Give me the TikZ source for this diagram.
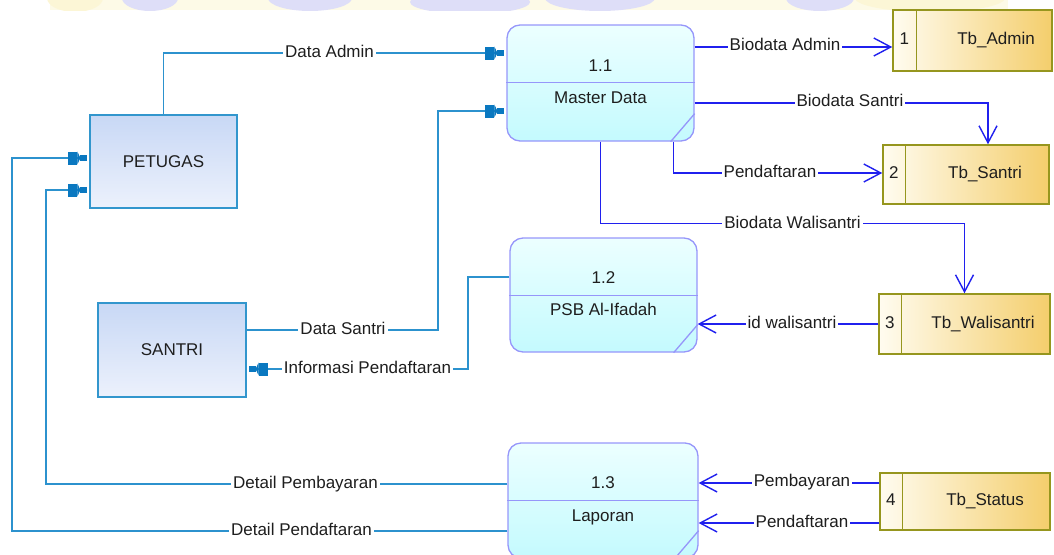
\documentclass[tikz,border=0pt]{standalone}
\usepackage{fontspec}
\setmainfont{Liberation Sans}
\usetikzlibrary{arrows.meta,calc}

\definecolor{flowteal}{RGB}{44,146,206}
\definecolor{flowtealtip}{RGB}{10,120,192}
\definecolor{flowblue}{RGB}{32,32,238}
\definecolor{procline}{RGB}{150,150,250}
\definecolor{proclight}{RGB}{236,255,255}
\definecolor{procdark}{RGB}{196,250,254}
\definecolor{entline}{RGB}{50,150,205}
\definecolor{entdark}{RGB}{200,216,245}
\definecolor{entlight}{RGB}{236,241,252}
\definecolor{storeline}{RGB}{150,150,30}
\definecolor{storelight}{RGB}{255,252,240}
\definecolor{storedark}{RGB}{244,206,108}
\definecolor{inktext}{RGB}{30,30,30}
\definecolor{wmyellow}{RGB}{252,246,214}
\definecolor{wmblue}{RGB}{222,222,248}

\begin{document}
\begin{tikzpicture}[x=1pt, y=-1pt,
  font=\fontsize{17}{20}\selectfont, text=inktext,
  entity/.style={draw=entline, line width=1.3pt, top color=entdark,
    bottom color=entlight, inner sep=0pt},
  process/.style={draw=procline, line width=1.3pt, rounded corners=13pt,
    top color=proclight, bottom color=procdark, inner sep=0pt},
  procrule/.style={draw=procline, line width=1.3pt},
  store/.style={draw=storeline, line width=1.5pt, left color=storelight,
    right color=storedark, inner sep=0pt},
  storerule/.style={draw=storeline, line width=1.5pt},
  tealflow/.style={draw=flowteal, line width=1.3pt,
    -{Rectangle[length=9pt,width=13pt,color=flowtealtip]
      Triangle[length=3pt,width=13pt,color=flowtealtip]
      Rectangle[length=7pt,width=6.5pt,color=flowtealtip]},
    shorten >=2pt},
  blueflow/.style={draw=flowblue, line width=1.4pt,
    -{Straight Barb[length=17pt,width=18pt]}},
  lbl/.style={fill=white, inner xsep=2pt, inner ysep=0pt,
    text height=12pt, text depth=3.5pt},
  ptext/.style={inner sep=0pt, text height=12pt, text depth=3.5pt}
]
\useasboundingbox (0,0) rectangle (1054,554);
\clip (0,0) rectangle (1054,554);

% faint logo band along the top edge
\begin{scope}
  \clip (0,0) rectangle (1054,10);
  \fill[wmyellow!60] (50,0) rectangle (1008,10);
  \fill[wmyellow] (75,-2) ellipse [x radius=28, y radius=14];
  \fill[wmyellow] (930,-2) ellipse [x radius=75, y radius=14];
  \fill[wmblue] (150,-2) ellipse [x radius=28, y radius=13];
  \fill[wmblue] (310,-2) ellipse [x radius=42, y radius=13];
  \fill[wmblue] (470,2) ellipse [x radius=60, y radius=12];
  \fill[wmblue] (600,-2) ellipse [x radius=55, y radius=13];
  \fill[wmblue] (820,-2) ellipse [x radius=34, y radius=13];
\end{scope}

% external entities
\node[entity, minimum width=147pt, minimum height=93pt] (petugas) at (163.5,161.5) {PETUGAS};
\node[entity, minimum width=148pt, minimum height=94pt] (santri) at (172,350) {SANTRI};

% processes
\node[process, minimum width=187pt, minimum height=116pt] (p11) at (600.5,83) {};
\node[process, minimum width=187pt, minimum height=114pt] (p12) at (603.5,295) {};
\node[process, minimum width=190pt, minimum height=115pt] (p13) at (603,500.5) {};
\foreach \p in {p11,p12,p13}{
  \draw[procrule] ($(\p.north west)+(0,58)$) -- ($(\p.north east)+(0,58)$);
  \draw[procrule] ($(\p.south east)+(-24,0)$) -- ($(\p.south east)+(0,-28)$);
}
\node[ptext] (p11num) at ($(p11.north)+(0,43)$) {1.1};
\node[ptext] (p11name) at ($(p11.north)+(0,75)$) {Master Data};
\node[ptext] (p12num) at ($(p12.north)+(0,42)$) {1.2};
\node[ptext] (p12name) at ($(p12.north)+(0,74)$) {PSB Al-Ifadah};
\node[ptext] (p13num) at ($(p13.north)+(0,42)$) {1.3};
\node[ptext] (p13name) at ($(p13.north)+(0,75)$) {Laporan};

% data stores
\node[store, minimum width=159pt, minimum height=61pt] (s1) at (972.5,40.5) {};
\node[store, minimum width=166pt, minimum height=59pt] (s2) at (966,174.5) {};
\node[store, minimum width=171pt, minimum height=60pt] (s3) at (964.5,324) {};
\node[store, minimum width=170pt, minimum height=57pt] (s4) at (965,501.5) {};
\draw[storerule] ($(s1.north west)+(24,0)$) -- ($(s1.south west)+(24,0)$);
\draw[storerule] ($(s2.north west)+(23,0)$) -- ($(s2.south west)+(23,0)$);
\draw[storerule] ($(s3.north west)+(23,0)$) -- ($(s3.south west)+(23,0)$);
\draw[storerule] ($(s4.north west)+(23,0)$) -- ($(s4.south west)+(23,0)$);
\node[ptext] (s1num) at ($(s1.west)+(12,0)$) {1};
\node[ptext] (s2num) at ($(s2.west)+(11.5,0)$) {2};
\node[ptext] (s3num) at ($(s3.west)+(11.5,0)$) {3};
\node[ptext] (s4num) at ($(s4.west)+(11.5,0)$) {4};
\node[ptext] (s1name) at (996,40.5) {Tb\_Admin};
\node[ptext] (s2name) at (985,174.5) {Tb\_Santri};
\node[ptext] (s3name) at (983,324) {Tb\_Walisantri};
\node[ptext] (s4name) at (985,501.5) {Tb\_Status};

% flows between entities and processes
\draw[tealflow] (petugas.north) |- (p11.west |- 0,53);
\draw[tealflow] (santri.east |- 0,330) -| (438,111) -- (p11.west |- 0,111);
\draw[tealflow] (p12.west |- 0,277) -| (468,369) -- (santri.east |- 0,369);
\draw[tealflow] (p13.west |- 0,484) -| (46,190) -- (petugas.west |- 0,190);
\draw[tealflow] (p13.west |- 0,531) -| (12,158) -- (petugas.west |- 0,158);

% flows between processes and data stores
\draw[blueflow] (p11.east |- 0,47) -- (s1.west |- 0,47);
\draw[blueflow] (p11.east |- 0,103) -| ($(s2.north)+(22,0)$);
\draw[blueflow] ($(p11.south)+(73,0)$) |- (s2.west |- 0,173);
\draw[blueflow] (p11.south) |- ($(s3.north)+(0,-70)$) -- (s3.north);
\draw[blueflow] (s3.west) -- (p12.east |- s3.west);
\draw[blueflow] (s4.west |- 0,483) -- (p13.east |- 0,483);
\draw[blueflow] (s4.west |- 0,523) -- (p13.east |- 0,523);

% flow labels
\node[lbl] (lDataAdmin) at (329.5,53) {Data Admin};
\node[lbl] (lDataSantri) at (343,330) {Data Santri};
\node[lbl] (lInfo) at (367.5,369) {Informasi Pendaftaran};
\node[lbl] (lDetBayar) at (305.5,484) {Detail Pembayaran};
\node[lbl] (lDetDaftar) at (301.5,531) {Detail Pendaftaran};
\node[lbl] (lBioAdmin) at (785,46) {Biodata Admin};
\node[lbl] (lBioSantri) at (850,102) {Biodata Santri};
\node[lbl] (lDaftar) at (770,173) {Pendaftaran};
\node[lbl] (lBioWali) at (792.5,224) {Biodata Walisantri};
\node[lbl] (lIdWali) at (792,324) {id walisantri};
\node[lbl] (lBayar) at (802,482) {Pembayaran};
\node[lbl] (lDaftar2) at (802,523) {Pendaftaran};
\end{tikzpicture}
\end{document}
